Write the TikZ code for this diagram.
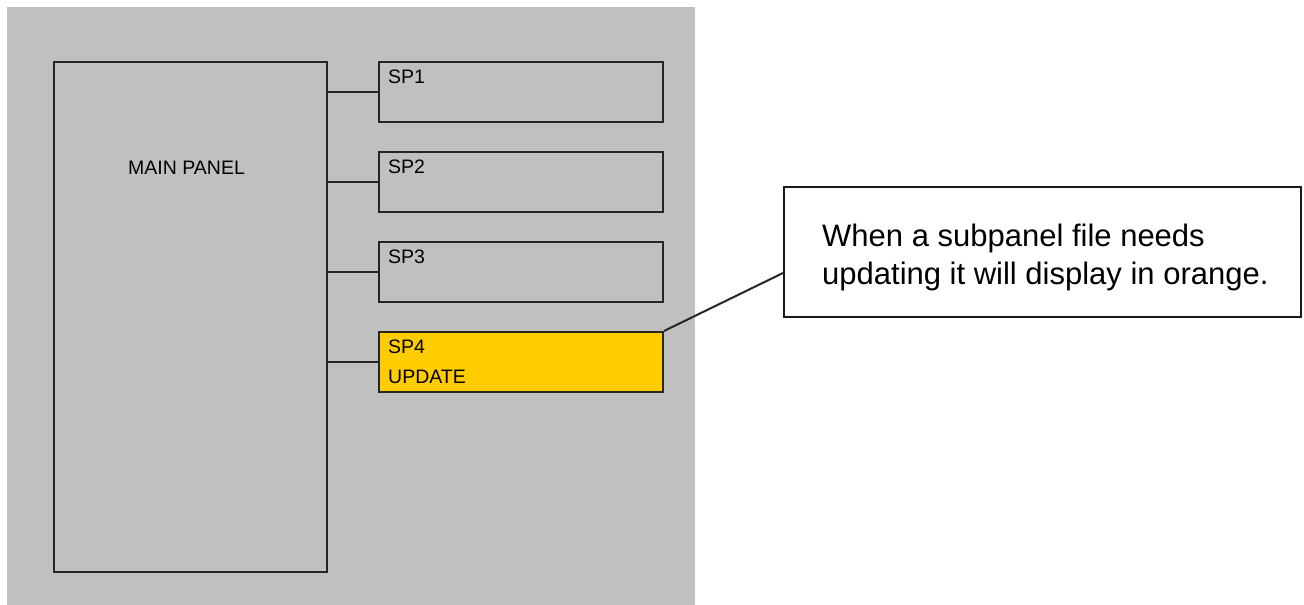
\documentclass[tikz,border=0pt]{standalone}
\usepackage{fontspec}
\setmainfont{Liberation Sans}
\begin{document}
\begin{tikzpicture}[x=1pt,y=-1pt,
  panel/.style={draw=black!85, line width=2pt, fill=panelgray, inner sep=0pt, anchor=north west},
  subbox/.style={panel, minimum width=284pt, minimum height=60pt},
  sublabel/.style={font=\fontsize{19.5}{21}\selectfont, anchor=base west, inner sep=0pt, align=left},
  wire/.style={draw=black!85, line width=2pt},
  callout/.style={draw=black!90, line width=2pt, fill=white, anchor=north west, inner sep=0pt, minimum width=517pt, minimum height=130pt}
]
\definecolor{panelgray}{HTML}{C0C0C0}
\definecolor{updorange}{HTML}{FFCC00}
\useasboundingbox (0,0) rectangle (1304,605);
\fill[panelgray] (7,7) rectangle (695,605);
\node[panel, minimum width=273pt, minimum height=510pt] (main) at (53,61) {};
\node[sublabel] (mainlbl) at (128,174) {MAIN PANEL};
\node[subbox] (sp1) at (378,61) {};
\node[subbox] (sp2) at (378,151) {};
\node[subbox] (sp3) at (378,241) {};
\node[subbox, fill=updorange] (sp4) at (378,331) {};
\node[sublabel] (sp1l) at (388,83) {SP1};
\node[sublabel] (sp2l) at (388,173) {SP2};
\node[sublabel] (sp3l) at (388,263) {SP3};
\node[sublabel] (sp4l) at (388,353) {SP4};
\node[sublabel] (sp4u) at (388,383) {UPDATE};
\foreach \b in {sp1,sp2,sp3,sp4}{
  \draw[wire] (\b.west) -- (\b.west -| main.east);
}
\node[callout] (note) at (783,186) {};
\node[anchor=base west, inner sep=0pt, font=\fontsize{31}{38}\selectfont, align=left] (notetext) at (822,284) {When a subpanel file needs\\updating it will display in orange.};
\coordinate (notein) at (783,273);
\draw[wire] (sp4.north east) -- (notein);
\end{tikzpicture}
\end{document}
